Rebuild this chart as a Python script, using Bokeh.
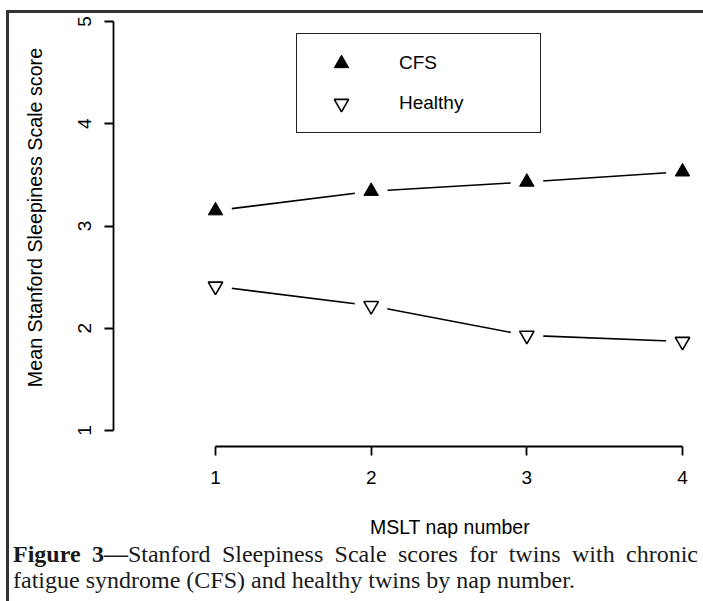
import math
from bokeh.plotting import figure
from bokeh.layouts import column, row
from bokeh.models import (Range1d, FixedTicker, Legend, LegendItem, Label, Div, Spacer)
from bokeh.embed import file_html
from bokeh.resources import INLINE

# ---------------- data ----------------
nap = [1, 2, 3, 4]
cfs = [3.15, 3.34, 3.43, 3.53]
healthy = [2.41, 2.22, 1.93, 1.87]
x_ticks = [1, 2, 3, 4]
y_ticks = [1, 2, 3, 4, 5]
series_names = ["CFS", "Healthy"]
x_title = "MSLT nap number"
y_title = "Mean Stanford Sleepiness Scale score"
caption_bold = "Figure 3\u2014"
caption_line1 = "Stanford Sleepiness Scale scores for twins with chronic"
caption_line2 = "fatigue syndrome (CFS) and healthy twins by nap number."

# ---------------- layout (page pixels) ----------------
X1_PX, X_PER = 215.0, 155.667   # page x of nap 1, px per unit
Y5_PX, Y_PER = 21.0, 102.25     # page y of score 5, px per unit


def dx(px):
    return 1 + (px - X1_PX) / X_PER


def dy(py):
    return 5 - (py - Y5_PX) / Y_PER


LEFT_GAP, TOP_GAP, RULE = 6, 10, 3
BOX_X0 = LEFT_GAP + RULE            # 9
BOX_Y0 = TOP_GAP + RULE             # 13
BOX_W = 703 - BOX_X0                # 694
YT_W = 51                           # strip holding the y title
MAIN_X0 = BOX_X0 + YT_W             # 60
MAIN_W = 703 - MAIN_X0              # 643
MAIN_BOTTOM = 500
MAIN_H = MAIN_BOTTOM - BOX_Y0
XT_BOTTOM = 541
XT_H = XT_BOTTOM - MAIN_BOTTOM
CAP_H = 601 - XT_BOTTOM
FRAME_L, FRAME_R, FRAME_T, FRAME_B = 113, 695, 16, 446
MB_L, MB_R = FRAME_L - MAIN_X0, 703 - FRAME_R
MB_T, MB_B = FRAME_T - BOX_Y0, MAIN_BOTTOM - FRAME_B

SANS = "Liberation Sans"

x_range = Range1d(dx(FRAME_L), dx(FRAME_R))
y_range = Range1d(dy(FRAME_B), dy(FRAME_T))

p = figure(width=MAIN_W, height=MAIN_H, output_backend="svg", toolbar_location=None,
           x_range=x_range, y_range=y_range,
           min_border_left=MB_L, min_border_right=MB_R,
           min_border_top=MB_T, min_border_bottom=MB_B)
p.outline_line_color = None
p.background_fill_color = "white"
p.border_fill_color = "white"
p.xgrid.visible = False
p.ygrid.visible = False

for ax, ticks in ((p.xaxis, x_ticks), (p.yaxis, y_ticks)):
    ax.ticker = FixedTicker(ticks=ticks)
    ax.bounds = (min(ticks), max(ticks))
    ax.major_tick_out = 9
    ax.major_tick_in = 0
    ax.minor_tick_out = 0
    ax.minor_tick_in = 0
    ax.axis_line_width = 1.8
    ax.major_tick_line_width = 1.8
    ax.axis_line_color = "black"
    ax.major_tick_line_color = "black"
    ax.major_label_text_font = SANS
    ax.major_label_text_font_size = "19px"
    ax.major_label_text_color = "black"
p.xaxis.major_label_standoff = 15
p.yaxis.major_label_standoff = 14
p.yaxis.major_label_orientation = "vertical"

# lines with gaps at the points (R type="b")
for ys in (cfs, healthy):
    p.line(nap, ys, line_color="black", line_width=1.6)
    p.scatter(nap, ys, marker="circle", size=33, fill_color="white", line_color=None)

r_cfs = p.scatter(nap, cfs, marker="triangle", size=14.5, fill_color="black",
                  line_color="black", line_width=1)
r_h = p.scatter(nap, healthy, marker="inverted_triangle", size=14.5, fill_color="white",
                line_color="black", line_width=1.6)

legend = Legend(items=[LegendItem(label=series_names[0], renderers=[r_cfs]),
                       LegendItem(label=series_names[1], renderers=[r_h])],
                location=(296 - FRAME_L, FRAME_B - 133),
                border_line_color="#222", border_line_width=1.5, border_line_alpha=1,
                background_fill_color="white", background_fill_alpha=1,
                padding=11, spacing=4, margin=0,
                glyph_width=66, glyph_height=36, label_standoff=25,
                label_width=130, label_height=36,
                label_text_font=SANS, label_text_font_size="19px",
                label_text_color="black")
p.add_layout(legend)


def blank(width, height, xr, yr, borders):
    f = figure(width=width, height=height, output_backend="svg", toolbar_location=None,
               x_range=xr, y_range=yr, x_axis_type=None, y_axis_type=None,
               min_border_left=borders[0], min_border_right=borders[1],
               min_border_top=borders[2], min_border_bottom=borders[3])
    f.outline_line_color = None
    f.xgrid.visible = False
    f.ygrid.visible = False
    f.background_fill_color = "white"
    f.border_fill_color = "white"
    return f


# y title strip: shares the y range, own x range in page pixels
yt = blank(YT_W, MAIN_H, Range1d(BOX_X0, MAIN_X0), y_range, (0, 0, MB_T, MB_B))
yt.add_layout(Label(x=34, y=dy(217), text=y_title, angle=math.pi / 2,
                    text_align="center", text_baseline="alphabetic",
                    text_font=SANS, text_font_size="19.7px", text_color="black"))

# x title strip: shares the x range, own y range in page pixels
xt = blank(MAIN_W, XT_H, x_range, Range1d(XT_BOTTOM, MAIN_BOTTOM), (MB_L, MB_R, 0, 0))
xt.add_layout(Label(x=dx(449.5), y=526, text=x_title,
                    text_align="center", text_baseline="alphabetic",
                    text_font=SANS, text_font_size="19.5px", text_color="black"))

# ---------------- caption (justified, Times-like) ----------------
cap_html = ('<div style="margin:0 0 0 4px; padding:0; width:685px; '
            'font-family:\'Liberation Serif\', \'Times New Roman\', serif; font-size:24px; '
            'line-height:26px; text-align:justify; color:#1a1a1a;">'
            '<span style="font-weight:bold">' + caption_bold + '</span>'
            '<span>' + caption_line1 + ' </span>'
            '<span>' + caption_line2 + '</span></div>')
cap = Div(text=cap_html, width=BOX_W, height=CAP_H, margin=0)

# ---------------- left and top rules of the figure box ----------------
rule = {"background-color": "#333"}
left_rule = Div(text="", width=RULE, height=601 - TOP_GAP, styles=rule, margin=0)
top_rule = Div(text="", width=BOX_W, height=RULE, styles=rule, margin=0)

inner = column(top_rule,
               row(yt, column(p, xt, spacing=0), spacing=0),
               cap, spacing=0)
layout = column(Spacer(width=703, height=TOP_GAP, margin=0),
                row(Spacer(width=LEFT_GAP, height=601 - TOP_GAP, margin=0), left_rule, inner,
                    spacing=0),
                spacing=0)

open("out.html", "w").write(file_html(layout, INLINE))
